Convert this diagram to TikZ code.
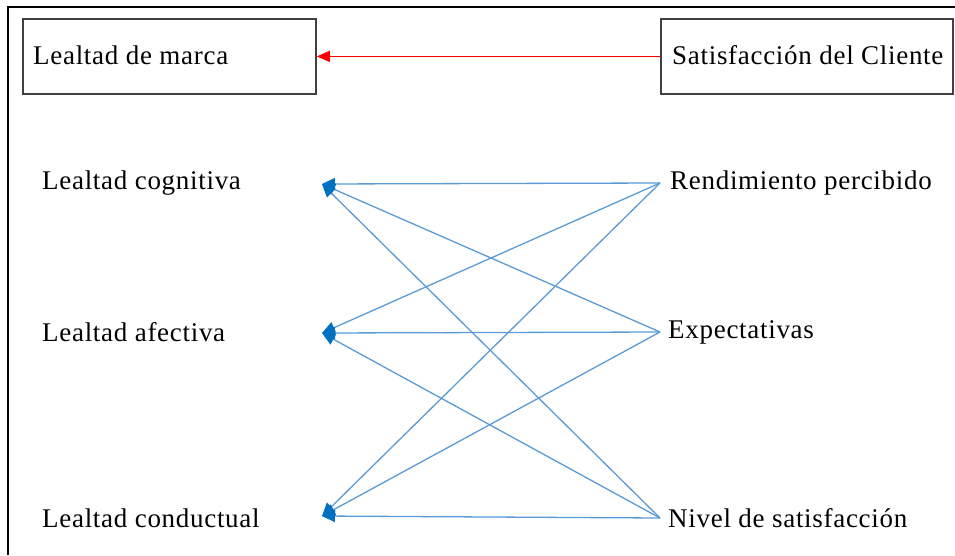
\documentclass[tikz,border=0pt]{standalone}
\usepackage{fontspec}
\setmainfont{Liberation Serif}[LetterSpace=2.6]
\usetikzlibrary{arrows.meta}
\definecolor{lineblue}{HTML}{5B9BD5}
\definecolor{tipblue}{HTML}{0070C0}
\definecolor{boxgray}{HTML}{404040}
\tikzset{
  lbl/.style={anchor=west, inner sep=0pt, font=\fontsize{27}{30}\selectfont},
  box/.style={draw=boxgray, line width=1.8pt, minimum height=75pt, inner sep=0pt},
  link/.style={draw=lineblue, line width=1.3pt, -{Triangle[length=13pt,width=12pt,fill=tipblue,color=tipblue]}},
  redlink/.style={draw=red, line width=1.5pt, -{Triangle[length=13pt,width=11pt,fill=red]}}
}
\begin{document}
\begin{tikzpicture}[x=1pt,y=-1pt]
\useasboundingbox (0,0) rectangle (955,555);
\draw[line width=2pt] (8,555) -- (8,7) -- (955,7);
% top boxes
\node[box, minimum width=293pt, anchor=north west] (marca) at (22,18) {};
\node[lbl] (marcaT) at (33,55) {Lealtad de marca};
\node[box, minimum width=292pt, anchor=north west] (satis) at (660,18) {};
\node[lbl] (satisT) at (672,55) {Satisfacción del Cliente};
\draw[redlink] (satis.west) -- (marca.east);
% left labels
\node[lbl] (cog) at (42,183) {Lealtad cognitiva};
\node[lbl] (afe) at (42,332) {Lealtad afectiva};
\node[lbl] (con) at (42,518) {Lealtad conductual};
% right labels
\node[lbl] (ren) at (670,183) {Rendimiento percibido};
\node[lbl] (exp) at (668,332) {Expectativas};
\node[lbl] (niv) at (668,518) {Nivel de satisfacción};
% endpoints
\coordinate (L1) at (322,184);
\coordinate (L2) at (322,333);
\coordinate (L3) at (322,516);
\coordinate (R1) at (660,183);
\coordinate (R2) at (660,332);
\coordinate (R3) at (660,518);
\foreach \r in {R1,R2,R3}{
  \foreach \l in {L1,L2,L3}{
    \draw[link] (\r) -- (\l);
  }
}
\end{tikzpicture}
\end{document}
